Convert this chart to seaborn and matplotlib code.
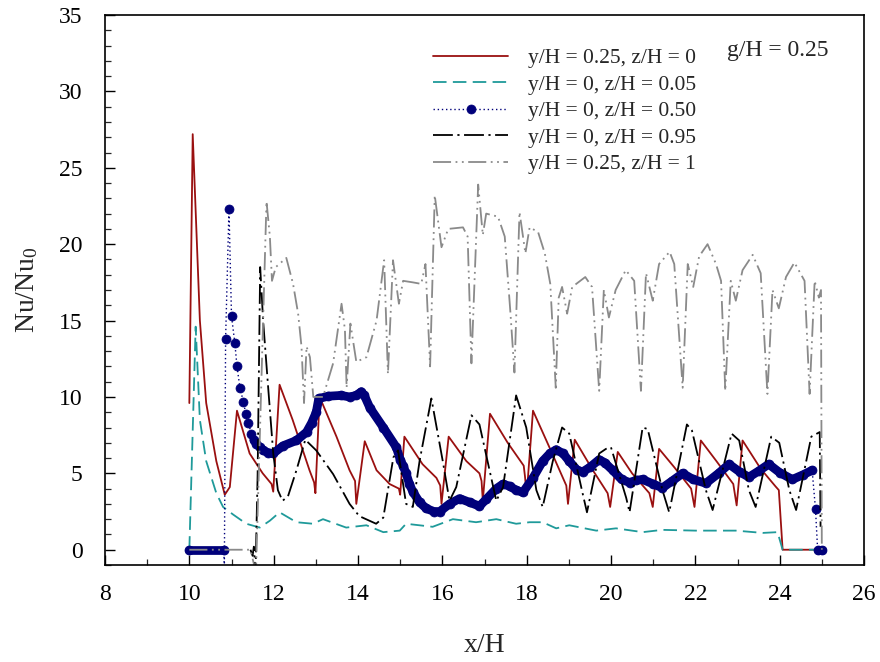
import numpy as np
import pandas as pd
import matplotlib
matplotlib.use("Agg")
import matplotlib.pyplot as plt
from matplotlib.ticker import MultipleLocator
import seaborn as sns

# ---------------- data ----------------
red_x = [10.0, 10.08, 10.25, 10.4, 10.64, 10.84, 10.96, 11.13, 11.43, 11.74, 11.95, 11.99,
         12.14, 12.45, 12.85, 12.96, 12.99, 13.09, 13.49, 13.8, 13.93, 13.96, 14.16, 14.44,
         14.75, 14.97, 15.0, 15.1, 15.53, 15.86, 15.95, 15.98, 16.15, 16.57, 16.88, 16.93,
         16.96, 17.13, 17.55, 17.93, 17.96, 18.0, 18.15, 18.54, 18.94, 18.98, 19.14, 19.57,
         19.92, 19.98, 20.16, 20.5, 20.91, 20.99, 21.14, 21.5, 21.9, 21.98, 22.13, 22.5,
         22.9, 22.98, 23.12, 23.55, 23.9, 23.98, 24.07, 24.9]
red_y = [9.6, 27.2, 15.0, 9.6, 5.8, 3.6, 4.1, 9.1, 6.3, 5.0, 4.3, 3.8,
         10.8, 8.5, 5.2, 4.4, 3.7, 10.0, 7.4, 5.2, 4.5, 3.0, 7.1, 5.2,
         4.3, 4.0, 3.6, 7.4, 5.6, 4.7, 4.2, 3.0, 7.4, 5.8, 5.0, 4.5,
         3.2, 8.9, 7.0, 5.5, 4.8, 3.6, 9.1, 6.7, 4.2, 3.0, 7.2, 5.2,
         3.7, 2.8, 6.4, 5.0, 3.7, 2.8, 6.6, 5.4, 4.0, 2.8, 7.15, 5.8,
         4.3, 2.9, 7.15, 5.3, 4.15, 3.9, 0.0, 0.0]

teal_x = [10.0, 10.15, 10.25, 10.4, 10.64, 10.8, 11.04, 11.35, 11.67, 11.91, 12.14, 12.54,
          12.93, 13.17, 13.72, 14.2, 14.6, 14.99, 15.14, 15.77, 16.25, 16.8, 17.28, 17.75,
          18.07, 18.38, 18.7, 19.01, 19.65, 20.12, 20.75, 21.22, 22.0, 22.96, 23.6, 23.95,
          24.07, 24.95]
teal_y = [0.0, 14.6, 8.5, 5.8, 3.7, 2.8, 2.3, 1.7, 1.45, 1.9, 2.45, 1.8,
          1.7, 2.0, 1.45, 1.6, 1.15, 1.25, 1.7, 1.5, 2.0, 1.8, 2.0, 1.7,
          1.8, 1.8, 1.4, 1.6, 1.25, 1.4, 1.15, 1.3, 1.25, 1.25, 1.1, 1.15,
          0.0, 0.0]

navy_x = [10.0, 10.82, 10.83, 10.86, 10.94, 11.0, 11.08, 11.13, 11.2, 11.28, 11.34, 11.4,
          11.47, 11.53, 11.59, 11.67, 11.75, 11.87, 11.99, 12.22, 12.54, 12.78, 12.9, 13.01,
          13.07, 13.3, 13.6, 13.8, 13.96, 14.08, 14.15, 14.28, 14.6, 14.91, 15.0, 15.07,
          15.14, 15.22, 15.3, 15.46, 15.62, 15.8, 15.94, 16.17, 16.41, 16.65, 16.88, 17.04,
          17.28, 17.44, 17.6, 17.75, 17.91, 18.15, 18.38, 18.55, 18.7, 18.86, 19.01, 19.2,
          19.33, 19.5, 19.72, 19.85, 20.04, 20.25, 20.44, 20.6, 20.75, 21.0, 21.22, 21.45,
          21.7, 21.95, 22.25, 22.55, 22.8, 23.05, 23.27, 23.5, 23.74, 24.0, 24.3, 24.55,
          24.77, 24.85, 24.9, 25.0]
navy_y = [0.0, 0.0, -1.5, 13.8, 22.3, 15.3, 13.5, 12.0, 10.6, 9.7, 8.9, 8.3,
          7.6, 7.2, 6.95, 6.7, 6.5, 6.35, 6.3, 6.8, 7.15, 7.7, 8.3, 9.0,
          9.9, 10.05, 10.1, 10.0, 10.1, 10.35, 10.1, 9.3, 8.0, 6.7, 5.9, 5.5,
          5.0, 4.3, 3.8, 3.1, 2.7, 2.5, 2.5, 3.0, 3.35, 3.1, 2.85, 3.3,
          4.0, 4.3, 4.15, 3.9, 3.75, 4.7, 5.8, 6.3, 6.55, 6.3, 5.8, 5.2,
          5.1, 5.4, 5.9, 5.7, 5.2, 4.6, 4.4, 4.55, 4.6, 4.3, 4.05, 4.5,
          5.0, 4.6, 4.35, 5.0, 5.6, 5.1, 4.75, 5.15, 5.6, 5.05, 4.6, 4.9,
          5.2, 2.65, 0.0, 0.0]

black_x = [11.45, 11.5, 11.53, 11.57, 11.62, 11.68, 11.75, 11.87, 11.99, 12.1, 12.21, 12.34,
           12.54, 12.75, 13.01, 13.41, 13.8, 14.03, 14.43, 14.6, 14.84, 14.95, 15.14, 15.3,
           15.46, 15.74, 16.01, 16.17, 16.33, 16.69, 16.88, 17.16, 17.28, 17.44, 17.75, 17.99,
           18.23, 18.38, 18.62, 18.84, 19.01, 19.33, 19.43, 19.72, 19.88, 20.0, 20.36, 20.44,
           20.75, 20.87, 21.22, 21.38, 21.8, 21.92, 22.25, 22.41, 22.86, 23.04, 23.27, 23.43,
           23.8, 23.99, 24.23, 24.39, 24.75, 24.95, 24.97]
black_y = [0.0, -0.4, 0.2, -1.5, 5.0, 18.5, 15.0, 10.6, 6.3, 3.9, 3.2, 3.5,
           5.2, 7.2, 6.5, 4.95, 3.0, 2.2, 1.7, 2.1, 6.05, 6.5, 3.0, 2.8,
           5.8, 9.9, 5.8, 3.2, 4.1, 8.8, 8.2, 4.7, 3.2, 4.1, 10.1, 8.0,
           3.9, 2.8, 5.8, 8.0, 7.6, 3.65, 2.45, 6.3, 6.6, 6.7, 3.4, 2.45,
           8.0, 7.9, 3.9, 2.45, 8.2, 7.8, 3.9, 2.6, 7.6, 7.15, 3.9, 2.8,
           7.4, 7.0, 3.9, 2.6, 7.4, 7.7, 1.5]

gray_x = [10.0, 11.45, 11.58, 11.83, 11.91, 11.96, 12.05, 12.3, 12.46, 12.58, 12.66, 12.72,
          12.78, 12.86, 12.94, 13.17, 13.41, 13.61, 13.69, 13.73, 13.82, 13.96, 14.2, 14.44,
          14.62, 14.71, 14.83, 14.97, 15.07, 15.3, 15.5, 15.6, 15.71, 15.82, 15.98, 16.14,
          16.49, 16.6, 16.69, 16.85, 16.96, 17.04, 17.32, 17.48, 17.61, 17.71, 17.83, 17.97,
          18.07, 18.27, 18.43, 18.56, 18.69, 18.76, 18.84, 18.96, 19.08, 19.39, 19.55, 19.72,
          19.83, 19.95, 20.11, 20.35, 20.55, 20.71, 20.83, 20.99, 21.14, 21.39, 21.5, 21.7,
          21.82, 21.95, 22.09, 22.29, 22.49, 22.61, 22.71, 22.84, 22.96, 23.12, 23.36, 23.55,
          23.71, 23.83, 23.98, 24.15, 24.35, 24.59, 24.71, 24.83, 24.93, 24.98, 25.0]
gray_y = [0.0, 0.0, -1.5, 22.8, 20.5, 17.6, 18.5, 19.1, 17.4, 15.45, 13.3, 9.6,
          13.3, 12.6, 10.0, 10.0, 12.2, 16.1, 14.4, 10.6, 14.8, 12.3, 12.6, 15.0,
          18.95, 11.5, 18.95, 16.1, 17.6, 17.5, 17.4, 18.7, 12.0, 23.2, 19.8, 21.0,
          21.1, 20.5, 12.2, 23.9, 20.6, 22.0, 21.8, 20.5, 15.7, 11.6, 22.1, 19.4,
          21.1, 20.8, 19.4, 17.4, 10.6, 16.5, 17.2, 15.45, 17.2, 17.85, 17.2, 10.4,
          17.0, 15.2, 17.0, 18.3, 17.6, 10.4, 18.1, 16.3, 18.7, 19.5, 18.7, 10.6,
          18.7, 17.2, 19.2, 20.0, 18.7, 17.6, 10.4, 17.6, 16.3, 18.3, 19.3, 18.1,
          10.2, 17.0, 15.8, 17.85, 18.8, 17.6, 10.2, 17.6, 16.5, 17.0, 0.0]

labels = ["y/H = 0.25, z/H = 0", "y/H = 0, z/H = 0.05", "y/H = 0, z/H = 0.50",
          "y/H = 0, z/H = 0.95", "y/H = 0.25, z/H = 1"]
x_ticks = [8, 10, 12, 14, 16, 18, 20, 22, 24, 26]
y_ticks = [0, 5, 10, 15, 20, 25, 30, 35]

# ---------------- styling ----------------
sns.set_theme(style="ticks")
plt.rcParams["font.family"] = ["Liberation Serif", "DejaVu Serif"]
plt.rcParams["mathtext.fontset"] = "custom"
plt.rcParams["mathtext.rm"] = "Liberation Serif"
plt.rcParams["mathtext.it"] = "Liberation Serif:italic"

RED = "#9a1010"
TEAL = "#1f9a9a"
NAVY = "#00007a"
BLACK = "#000000"
GRAY = "#8a8a8a"

fig = plt.figure(figsize=(8.8, 6.62), dpi=100)
ax = fig.add_axes([105 / 880, 1 - 565 / 662, 759 / 880, 550 / 662])

red = pd.DataFrame({"x": red_x, "y": red_y})
teal = pd.DataFrame({"x": teal_x, "y": teal_y})
navy = pd.DataFrame({"x": navy_x, "y": navy_y})
black = pd.DataFrame({"x": black_x, "y": black_y})
gray = pd.DataFrame({"x": gray_x, "y": gray_y})

common = dict(sort=False, estimator=None, ax=ax)

sns.lineplot(data=red, x="x", y="y", color=RED, linewidth=1.3, label=labels[0], **common)
sns.lineplot(data=teal, x="x", y="y", color=TEAL, linewidth=1.3,
             linestyle=(0, (7.5, 3.5)), label=labels[1], **common)

# dense chain of circle markers rendered as a thick band
for lo, hi in [(10.0, 10.82), (11.5, 24.77), (24.9, 25.0)]:
    seg = navy[(navy["x"] >= lo) & (navy["x"] <= hi)].reset_index(drop=True)
    sns.lineplot(data=seg, x="x", y="y", color=NAVY, linewidth=6.3,
                 solid_capstyle="round", solid_joinstyle="round", **common)
sns.lineplot(data=navy, x="x", y="y", color=NAVY, linewidth=1.0,
             linestyle=(0, (1, 2)), marker="o", markersize=6.5,
             markeredgecolor=NAVY, markerfacecolor=NAVY, markeredgewidth=0.5,
             label=labels[2], **common)

sns.lineplot(data=black, x="x", y="y", color=BLACK, linewidth=1.3,
             linestyle=(0, (11, 2.5, 1.2, 2.5)), label=labels[3], **common)
sns.lineplot(data=gray, x="x", y="y", color=GRAY, linewidth=1.3,
             linestyle=(0, (10, 2.5, 1, 2.5, 1, 2.5)), label=labels[4], **common)

ax.set_xlim(8, 26)
ax.set_ylim(-1, 35)
ax.set_xticks(x_ticks)
ax.set_yticks(y_ticks)
ax.xaxis.set_minor_locator(MultipleLocator(1))
ax.yaxis.set_minor_locator(MultipleLocator(1))
ax.tick_params(axis="both", which="major", direction="in", length=7, width=1.0,
               labelsize=17, top=False, right=False, colors="black")
ax.tick_params(axis="x", which="major", pad=14)
ax.tick_params(axis="y", which="major", pad=16)
ax.tick_params(axis="both", which="minor", direction="in", length=4, width=0.9,
               top=False, right=False)
for s in ax.spines.values():
    s.set_linewidth(1.2)
    s.set_color("black")

ax.set_xlabel("x/H", fontsize=20, labelpad=20)
ax.set_ylabel("Nu/Nu$_0$", fontsize=20, labelpad=14)

leg = ax.legend(loc="upper left", bbox_to_anchor=(0.432, 0.94), frameon=False,
                fontsize=15.5, handlelength=3.5, handletextpad=0.9,
                labelspacing=0.3, borderpad=0, borderaxespad=0, numpoints=1)

ax.text(0.8195, 0.936, "g/H = 0.25", transform=ax.transAxes, fontsize=17,
        ha="left", va="center")

fig.savefig("out.png", dpi=100)
